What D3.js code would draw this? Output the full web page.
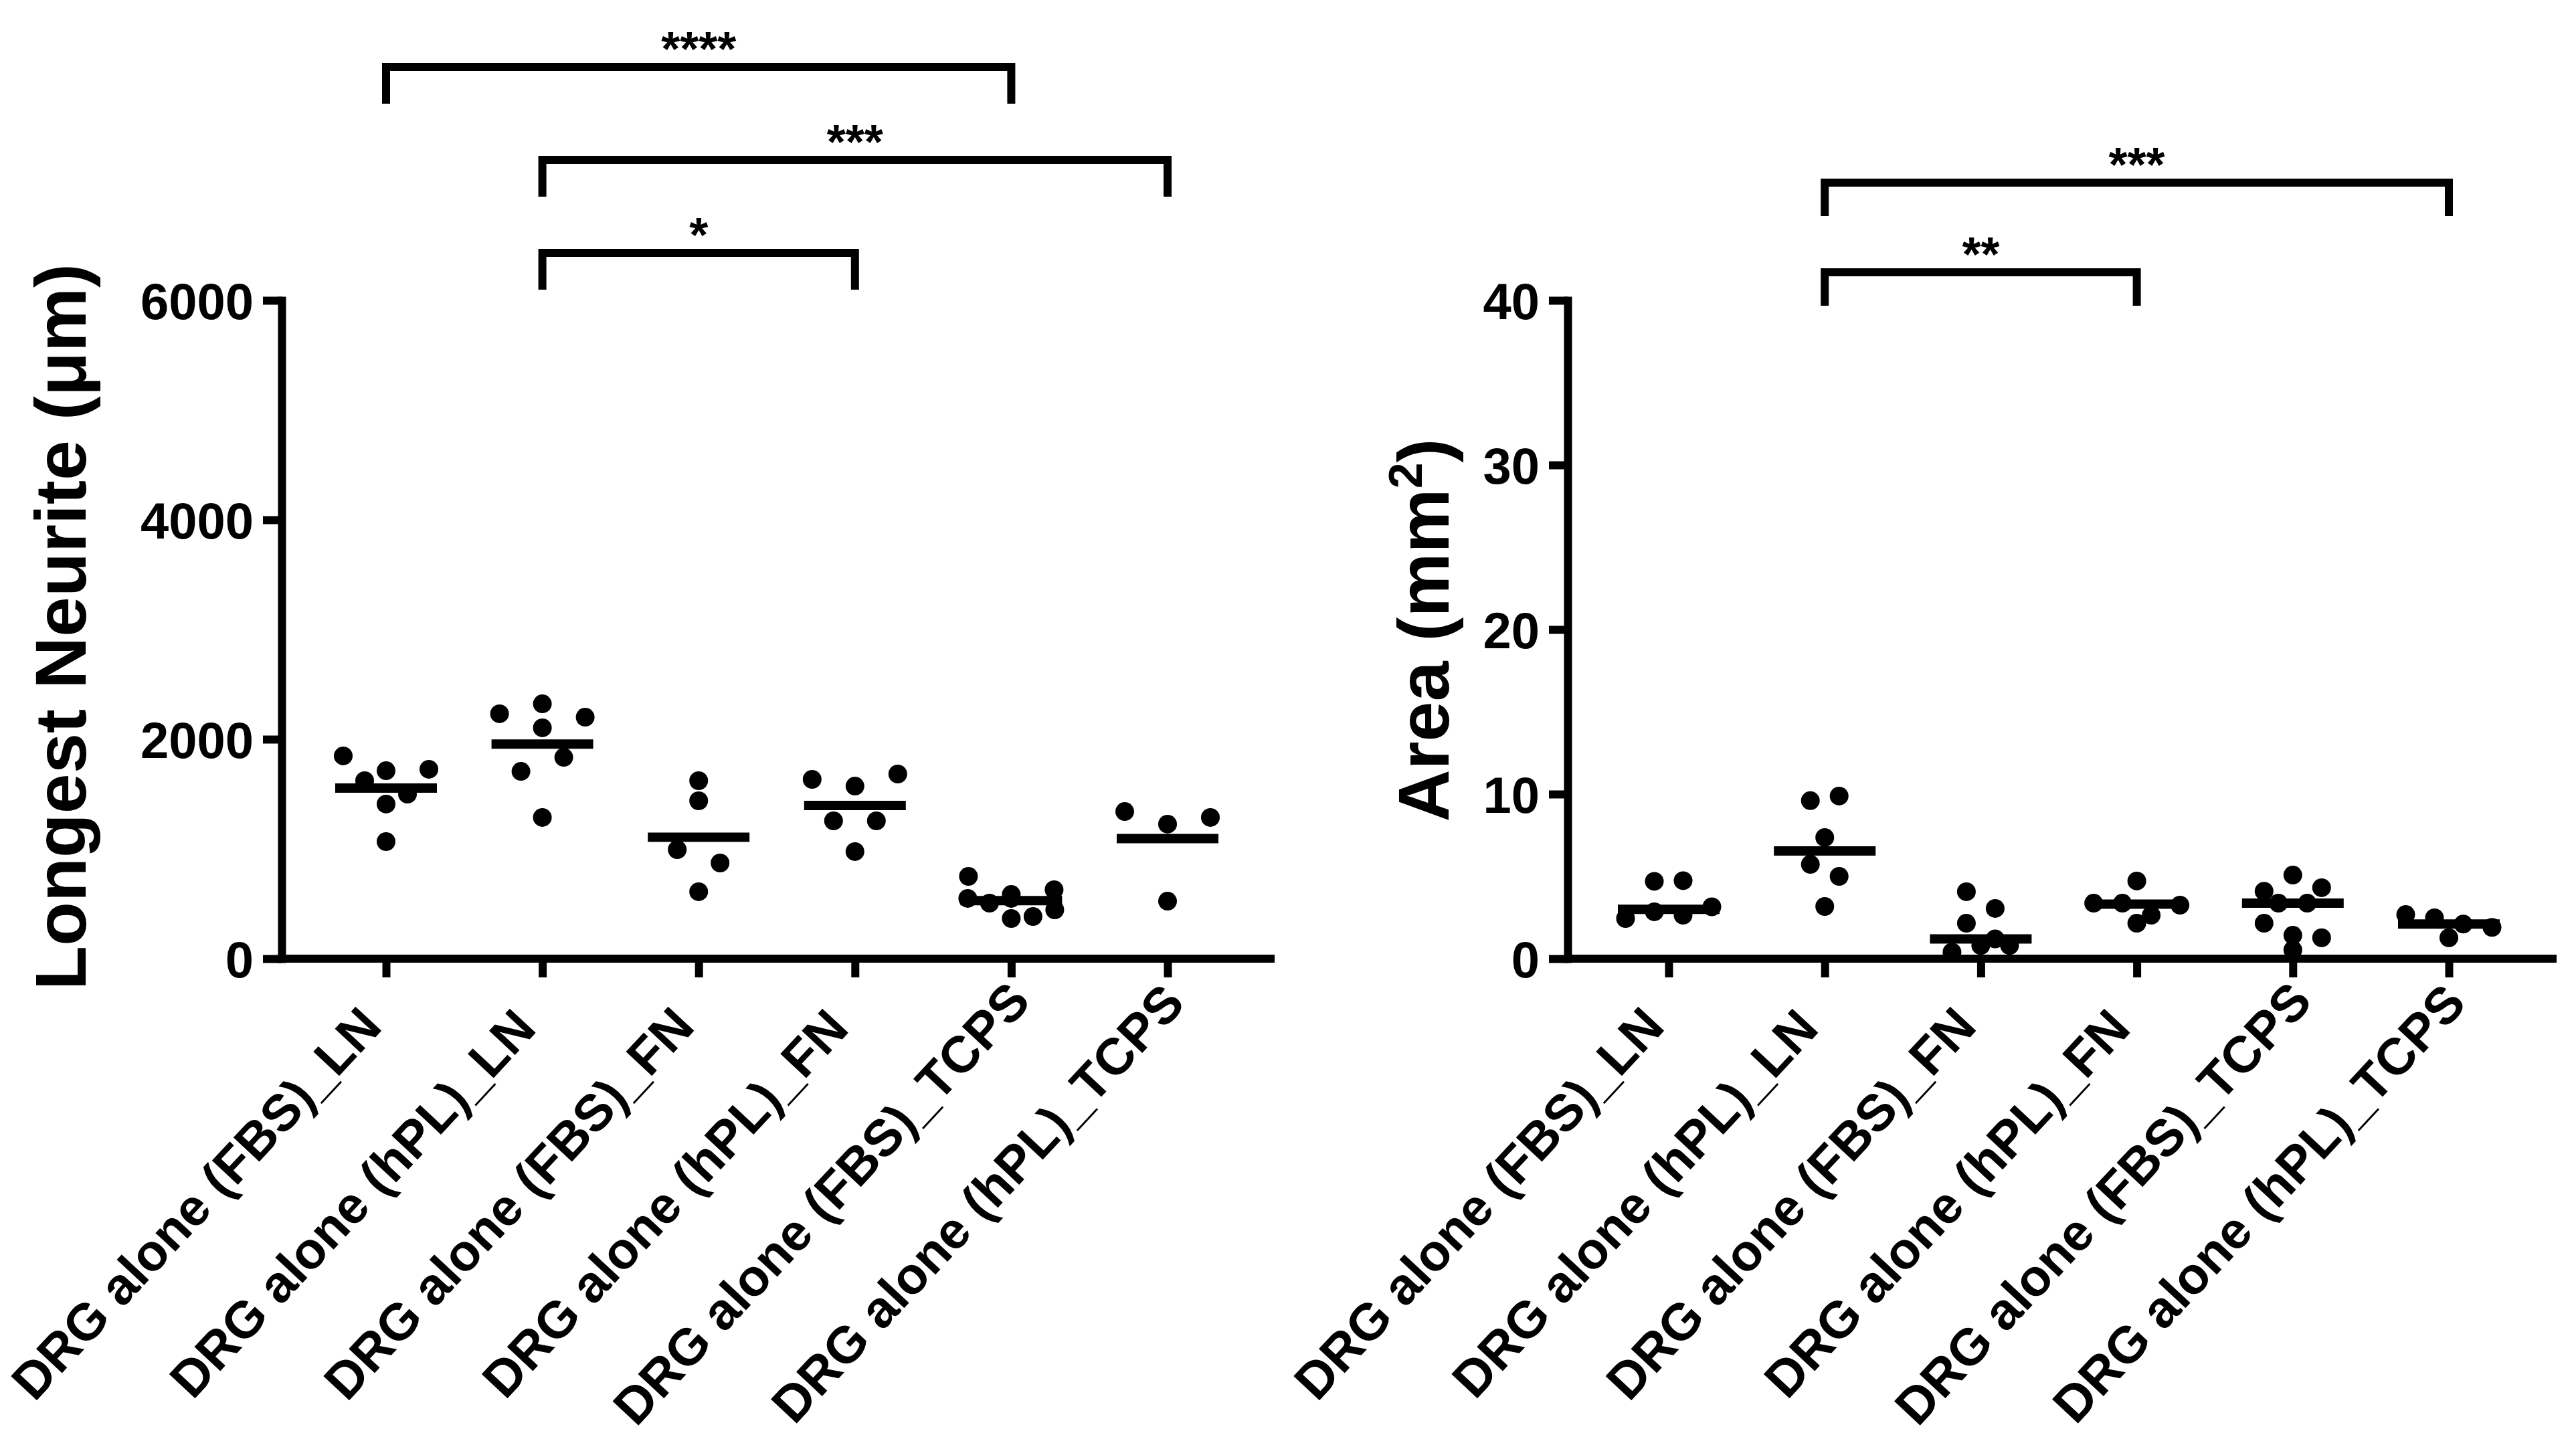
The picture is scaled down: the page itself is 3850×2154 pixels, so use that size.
<!DOCTYPE html>
<html>
<head>
<meta charset="utf-8">
<script src="https://cdn.jsdelivr.net/npm/d3@7"></script>
<style>
  body { margin: 0; background: #fff; }
  svg text { font-family: "Liberation Sans", Arial, sans-serif; font-weight: bold; fill: #000; }
</style>
</head>
<body>
<div id="chart"></div>
<script>
// groups on the x axis (same for both panels)
var categories = [
    "DRG alone (FBS)_LN", "DRG alone (hPL)_LN", "DRG alone (FBS)_FN",
    "DRG alone (hPL)_FN", "DRG alone (FBS)_TCPS", "DRG alone (hPL)_TCPS"
];

// longest neurite (um), one list per group
var neuriteValues = [
    [1848, 1713, 1726, 1622, 1409, 1500, 1067],
    [2232, 2323, 2201, 2104, 1707, 1835, 1287],
    [1622, 1439, 994, 872, 610],
    [1634, 1573, 1683, 1256, 1256, 976],
    [750, 549, 585, 506, 628, 549, 366, 384, 445],
    [1341, 1226, 1287, 524]
];
var neuriteTicks = [0, 2000, 4000, 6000];

// outgrowth area (mm2)
var areaValues = [
    [4.7, 4.74, 2.44, 2.85, 2.64, 3.15],
    [9.6, 9.88, 7.36, 5.73, 5.0, 3.17],
    [4.07, 3.05, 2.15, 0.4, 1.2, 0.8, 0.8],
    [4.72, 3.37, 3.37, 2.64, 3.25, 2.15],
    [4.1, 5.08, 4.31, 3.37, 3.37, 2.15, 1.42, 1.27, 0.53],
    [2.68, 2.48, 2.1, 1.9, 1.27]
];
var areaTicks = [0, 10, 20, 30, 40];

// significance brackets (group indexes)
var neuriteBrackets = [
    {from: 0, to: 4, label: "****"},
    {from: 1, to: 5, label: "***"},
    {from: 1, to: 3, label: "*"}
];
var areaBrackets = [
    {from: 1, to: 5, label: "***"},
    {from: 1, to: 3, label: "**"}
];

var W = 3850, H = 2154;
var plotTop = 449, plotBottom = 1433;
var stroke = 12;

var svg = d3.select("#chart")
    .append("svg")
    .attr("width", W)
    .attr("height", H);

svg.append("rect").attr("width", W).attr("height", H).attr("fill", "#fff");

// spread points that sit at about the same height side by side
function spreadPoints(values, y, spacing, maxWidth, rowPx) {
    var order = values.map(function(v, i){ return i; })
        .sort(function(a, b){ return values[b] - values[a] || a - b; });
    var rows = [], cur = null;
    order.forEach(function(i){
        var py = y(values[i]);
        if (cur && py - cur.top < rowPx) cur.items.push(i);
        else { cur = {top: py, items: [i]}; rows.push(cur); }
    });
    var off = new Array(values.length);
    rows.forEach(function(r){
        r.items.sort(function(a, b){ return a - b; });
        var n = r.items.length;
        var step = n > 1 ? Math.min(spacing, maxWidth / (n - 1)) : 0;
        r.items.forEach(function(i, k){ off[i] = (k - (n - 1) / 2) * step; });
    });
    return off;
}

function drawPanel(p) {
    var g = svg.append("g");

    var x = d3.scalePoint()
        .domain(categories)
        .range([p.firstX, p.lastX]);

    var y = d3.scaleLinear()
        .domain([0, p.yMax])
        .range([plotBottom, plotTop]);

    // y axis
    var yAxis = g.append("g")
        .attr("transform", "translate(" + p.axisX + ",0)")
        .call(d3.axisLeft(y).tickValues(p.ticks).tickFormat(d3.format("d"))
            .tickSize(28).tickPadding(14).tickSizeOuter(0));
    yAxis.selectAll("path, line").attr("stroke", "#000").attr("stroke-width", stroke);
    yAxis.select(".domain").attr("stroke-linecap", "square");
    yAxis.selectAll("text").attr("font-size", 76).attr("dy", "0.36em");

    // x axis, labels centred on a point below-left of each tick
    var xAxis = g.append("g")
        .attr("transform", "translate(0," + plotBottom + ")")
        .call(d3.axisBottom(x).tickSize(28).tickSizeOuter(0));
    xAxis.select(".domain").remove();
    xAxis.selectAll("line").attr("stroke", "#000").attr("stroke-width", stroke);
    xAxis.selectAll("text")
        .attr("font-size", 77)
        .attr("text-anchor", "middle")
        .attr("y", 0).attr("dy", 0)
        .attr("transform", "translate(-265,384) rotate(-47)");

    g.append("line")
        .attr("x1", p.axisX).attr("x2", p.axisEnd)
        .attr("y1", plotBottom).attr("y2", plotBottom)
        .attr("stroke", "#000").attr("stroke-width", stroke)
        .attr("stroke-linecap", "square");

    // y title
    var title = g.append("text")
        .attr("transform", "translate(" + p.titleX + "," + p.titleY + ") rotate(-90)")
        .attr("text-anchor", "middle")
        .attr("font-size", 108);
    p.title(title);

    // points and centre lines
    p.values.forEach(function(vals, gi){
        var cx = x(categories[gi]);
        var off = spreadPoints(vals, y, p.spacing, 130, 28);
        g.append("g").selectAll("circle")
            .data(vals)
            .enter().append("circle")
            .attr("cx", function(d, i){ return cx + off[i]; })
            .attr("cy", function(d){ return y(d); })
            .attr("r", 14)
            .attr("fill", "#000");
        var c = p.stat(vals);
        g.append("line")
            .attr("x1", cx - 76).attr("x2", cx + 76)
            .attr("y1", y(c)).attr("y2", y(c))
            .attr("stroke", "#000").attr("stroke-width", 14);
    });

    // brackets
    p.brackets.forEach(function(b, k){
        var x1 = x(categories[b.from]), x2 = x(categories[b.to]);
        var yb = p.bracketY[k];
        g.append("path")
            .attr("d", "M" + x1 + "," + (yb + p.drop) + "V" + yb + "H" + x2 + "V" + (yb + p.drop))
            .attr("fill", "none")
            .attr("stroke", "#000")
            .attr("stroke-width", stroke);
        g.append("text")
            .attr("x", (x1 + x2) / 2)
            .attr("y", yb - 2)
            .attr("text-anchor", "middle")
            .attr("font-size", 72)
            .text(b.label);
    });
}

drawPanel({
    values: neuriteValues, ticks: neuriteTicks, yMax: 6000,
    axisX: 421, firstX: 577, lastX: 1745, axisEnd: 1899,
    spacing: 64, stat: d3.mean,
    brackets: neuriteBrackets, bracketY: [100, 239, 378], drop: 55,
    titleX: 128, titleY: 937,
    title: function(t){ t.text("Longest Neurite (μm)"); }
});

drawPanel({
    values: areaValues, ticks: areaTicks, yMax: 40,
    axisX: 2343, firstX: 2494, lastX: 3660, axisEnd: 3815,
    spacing: 43, stat: d3.median,
    brackets: areaBrackets, bracketY: [273, 407], drop: 50,
    titleX: 2165, titleY: 942,
    title: function(t){
        t.append("tspan").text("Area (mm");
        t.append("tspan").attr("dy", -40).attr("font-size", 70).text("2");
        t.append("tspan").attr("dy", 40).text(")");
    }
});
</script>
</body>
</html>
